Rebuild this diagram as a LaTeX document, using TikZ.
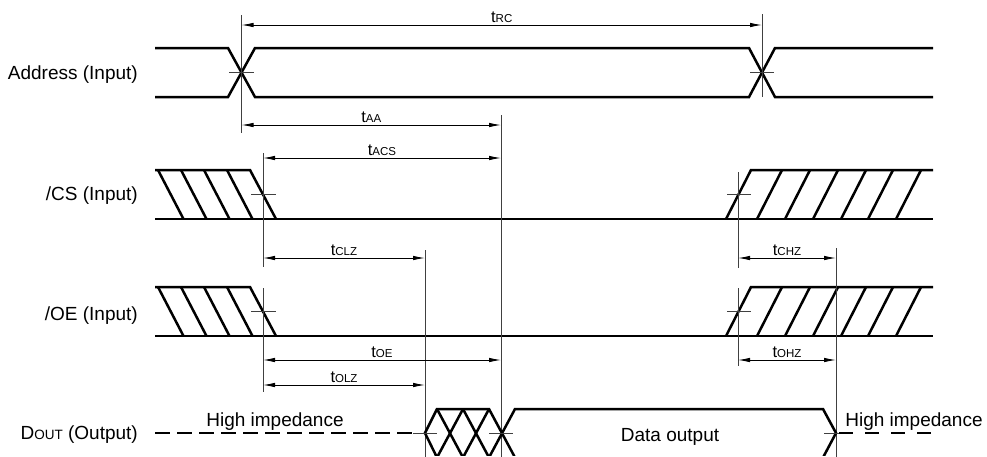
\documentclass[tikz,border=0pt]{standalone}
\usepackage{fontspec}
\setmainfont{Liberation Sans}
\usetikzlibrary{arrows.meta}
\newcommand{\tlab}[2]{{\fontsize{16.5}{18}\selectfont #1}{\fontsize{11.5}{13}\selectfont #2}}
\begin{document}
\begin{tikzpicture}[x=1pt,y=-1pt,
  sig/.style={line width=2.5pt, line join=miter, line cap=butt},
  refl/.style={line width=0.9pt, draw=black!75},
  dim/.style={line width=0.9pt, {Latex[length=12pt,width=4.5pt]}-{Latex[length=12pt,width=4.5pt]}},
  signame/.style={anchor=base east, inner sep=0pt, font=\fontsize{19}{22}\selectfont},
  txt/.style={anchor=base, inner sep=0pt, font=\fontsize{19}{22}\selectfont},
  tl/.style={anchor=base, inner sep=0pt, yshift=3pt},
]
\useasboundingbox (0,0) rectangle (987,456);

% ---------- signal names ----------
\node[signame] (nAddr) at (138,79.5) {Address (Input)};
\node[signame] (nCS) at (138,200.5) {/CS (Input)};
\node[signame] (nOE) at (138,320.5) {/OE (Input)};
\node[signame] (nDout) at (138,439.5) {D{\fontsize{13.5}{15}\selectfont OUT} (Output)};

% ---------- Address ----------
\draw[sig] (155,48) -- (228,48) -- (255,97) -- (749,97) -- (775,48) -- (933,48);
\draw[sig] (155,97) -- (228,97) -- (255,48) -- (749,48) -- (775,97) -- (933,97);
\coordinate (a1t) at (241.5,15);  \coordinate (a1b) at (241.5,133);
\coordinate (a2t) at (762,14);    \coordinate (a2b) at (762,97);
\draw[refl] (a1t) -- (a1b);
\draw[refl] (229,72.5) -- (254,72.5);
\draw[refl] (a2t) -- (a2b);
\draw[refl] (750,72.5) -- (774,72.5);

% ---------- /CS ----------
\draw[sig] (155,170) -- (250,170) -- (276,219);
\draw[sig] (155,219) -- (933,219);
\foreach \x in {158,181,204,227} \draw[sig] (\x,170) -- (\x+25.5,219);
\draw[sig] (726,219) -- (751,170) -- (933,170);
\foreach \x in {757,785,813,841,868,896} \draw[sig] (\x,219) -- (\x+25,170);
\draw[refl] (263,153) -- (263,267);
\draw[refl] (251,194.5) -- (276,194.5);
\draw[refl] (738,172) -- (738,268);
\draw[refl] (727,194.5) -- (751,194.5);

% ---------- /OE ----------
\draw[sig] (155,287) -- (250,287) -- (276,336);
\draw[sig] (155,336) -- (933,336);
\foreach \x in {158,181,204,227} \draw[sig] (\x,287) -- (\x+25.5,336);
\draw[sig] (726,336) -- (751,287) -- (933,287);
\foreach \x in {757,785,813,841,868,896} \draw[sig] (\x,336) -- (\x+25,287);
\draw[refl] (263,288) -- (263,392);
\draw[refl] (251,311.5) -- (276,311.5);
\draw[refl] (738,288) -- (738,366);
\draw[refl] (727,311.5) -- (751,311.5);

% ---------- long reference lines ----------
\draw[refl] (501,115) -- (501,460);
\draw[refl] (425,250) -- (425,460);
\draw[refl] (836,248) -- (836,460);

% ---------- D_OUT ----------
\draw[sig, dash pattern=on 15pt off 7pt] (155,433) -- (413,433);
\begin{scope}
\clip (0,0) rectangle (987,455.5);
\draw[sig] (443.1,470) -- (425,433) -- (437,409) -- (489,409) -- (521.7,470);
\draw[sig] (482.3,470) -- (515,409) -- (823,409) -- (836,433) -- (816.4,470);
\draw[sig] (437,409) -- (469.7,470);
\draw[sig] (463,409) -- (495.7,470);
\draw[sig] (430.3,470) -- (463,409);
\draw[sig] (456.3,470) -- (489,409);
\end{scope}
\draw[refl] (413,433) -- (437,433);
\draw[refl] (489,433) -- (513,433);
\draw[refl] (824,433) -- (848,433);
\draw[sig, dash pattern=on 14pt off 12pt] (839,433) -- (931,433);
\node[txt] (hiz1) at (275,426) {High impedance};
\node[txt] (hiz2) at (914,426) {High impedance};
\node[txt] (dout) at (670,441) {Data output};

% ---------- timing dimensions ----------
\coordinate (rcL) at (241.5,25);  \coordinate (rcR) at (762,25);
\coordinate (aaL) at (241.5,125); \coordinate (aaR) at (501,125);
\coordinate (acsL) at (263,158);  \coordinate (acsR) at (501,158);
\coordinate (clzL) at (263,258);  \coordinate (clzR) at (425,258);
\coordinate (chzL) at (738,258);  \coordinate (chzR) at (836,258);
\coordinate (oeL) at (263,360);   \coordinate (oeR) at (501,360);
\coordinate (olzL) at (263,385);  \coordinate (olzR) at (425,385);
\coordinate (ohzL) at (738,360);  \coordinate (ohzR) at (836,360);

\draw[dim] (rcL) -- (rcR) node[tl, pos=0.5] (lrc) {\tlab{t}{RC}};
\draw[dim] (aaL) -- (aaR) node[tl, pos=0.5] (laa) {\tlab{t}{AA}};
\draw[dim] (acsL) -- (acsR) node[tl, pos=0.5] (lacs) {\tlab{t}{ACS}};
\draw[dim] (clzL) -- (clzR) node[tl, pos=0.5] (lclz) {\tlab{t}{CLZ}};
\draw[dim] (chzL) -- (chzR) node[tl, pos=0.5] (lchz) {\tlab{t}{CHZ}};
\draw[dim] (oeL) -- (oeR) node[tl, pos=0.5] (loe) {\tlab{t}{OE}};
\draw[dim] (olzL) -- (olzR) node[tl, pos=0.5] (lolz) {\tlab{t}{OLZ}};
\draw[dim] (ohzL) -- (ohzR) node[tl, pos=0.5] (lohz) {\tlab{t}{OHZ}};
\end{tikzpicture}
\end{document}
